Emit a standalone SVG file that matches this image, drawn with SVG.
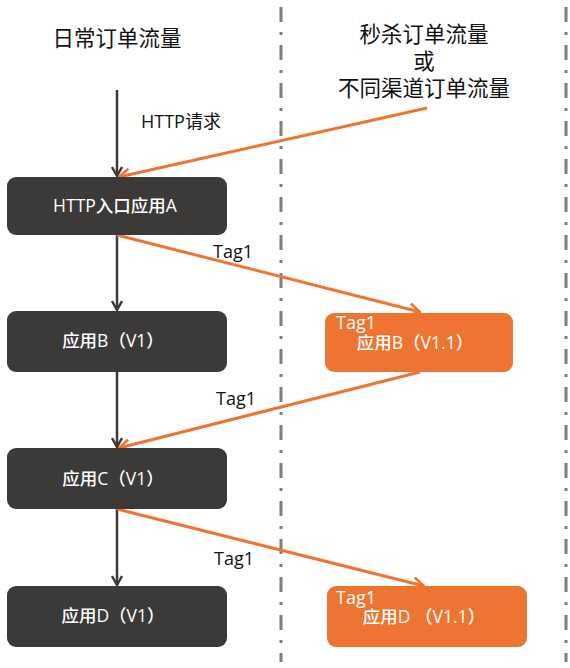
<svg xmlns="http://www.w3.org/2000/svg" width="570" height="668" viewBox="0 0 570 668">
<style>
.t{font-family:"Open Sans","Noto Sans CJK SC",sans-serif}
.title{font-size:21.5px;fill:#111;text-anchor:middle;font-family:"Noto Sans CJK SC",sans-serif}
.lbl{font-size:18px;fill:#111}
.nt{font-size:17.5px;fill:#fff;font-weight:500;text-anchor:middle}
.tag{font-size:18px;fill:#fff;font-weight:500}
.dark{fill:#3b3a39}
.orange{fill:#ee7431}
.div{stroke:#7f7f7f;stroke-width:3;stroke-dasharray:15 10 3 10;fill:none}
.da{stroke:#3b3a39;stroke-width:2.5;fill:none;marker-end:url(#ad)}
.oa{stroke:#ee7431;stroke-width:3;fill:none;marker-end:url(#ao)}
</style>
<defs>
<marker id="ad" viewBox="0 0 12 12" refX="11" refY="6" markerWidth="12" markerHeight="12" markerUnits="userSpaceOnUse" orient="auto">
<path d="M2,1 L11,6 L2,11" fill="none" stroke="#3b3a39" stroke-width="2.5"/>
</marker>
<marker id="ao" viewBox="0 0 14 14" refX="13" refY="7" markerWidth="14" markerHeight="14" markerUnits="userSpaceOnUse" orient="auto">
<path d="M2,1 L13,7 L2,13" fill="none" stroke="#ee7431" stroke-width="2.5"/>
</marker>
</defs>
<rect width="570" height="668" fill="#fff"/>
<g id="dividers">
<line class="div" x1="281" y1="7" x2="281" y2="662"/>
<line class="div" x1="566" y1="7" x2="566" y2="662"/>
</g>
<g id="headers">
<text class="title" x="117" y="46">日常订单流量</text>
<text class="title" x="424" y="42">秒杀订单流量<tspan x="424" y="69">或</tspan><tspan x="424" y="96">不同渠道订单流量</tspan></text>
</g>
<g id="connectors">
<line class="da" x1="117" y1="90" x2="117" y2="176"/>
<line class="da" x1="117" y1="235" x2="117" y2="310"/>
<line class="da" x1="117" y1="372" x2="117" y2="447"/>
<line class="da" x1="117" y1="509" x2="117" y2="585"/>
<line class="oa" x1="427" y1="108" x2="119" y2="177"/>
<line class="oa" x1="117" y1="235" x2="420" y2="312"/>
<line class="oa" x1="420" y1="372" x2="119" y2="448"/>
<line class="oa" x1="117" y1="509" x2="424" y2="586"/>
<g class="t">
<text class="lbl" x="141" y="128">HTTP请求</text>
<text class="lbl" x="213" y="258">Tag1</text>
<text class="lbl" x="216" y="405">Tag1</text>
<text class="lbl" x="214" y="565">Tag1</text>
</g>
</g>
<g id="nodeA" class="t">
<rect class="dark" x="7" y="177" width="220" height="58" rx="9"/>
<text class="nt" x="115" y="212">HTTP入口应用A</text>
</g>
<g id="nodeB1" class="t">
<rect class="dark" x="7" y="311" width="220" height="61" rx="9"/>
<text class="nt" x="113" y="347">应用B（V1）</text>
</g>
<g id="nodeC1" class="t">
<rect class="dark" x="7" y="448" width="220" height="61" rx="9"/>
<text class="nt" x="113" y="485">应用C（V1）</text>
</g>
<g id="nodeD1" class="t">
<rect class="dark" x="7" y="586" width="220" height="61" rx="9"/>
<text class="nt" x="113" y="622">应用D（V1）</text>
</g>
<g id="nodeB11" class="t">
<rect class="orange" x="325" y="313" width="188" height="59" rx="9"/>
<text class="tag" x="336" y="329">Tag1</text>
<text class="nt" x="415" y="349">应用B（V1.1）</text>
</g>
<g id="nodeD11" class="t">
<rect class="orange" x="327" y="586" width="200" height="61" rx="9"/>
<text class="tag" x="336" y="604">Tag1</text>
<text class="nt" x="424" y="623">应用D （V1.1）</text>
</g>
</svg>
